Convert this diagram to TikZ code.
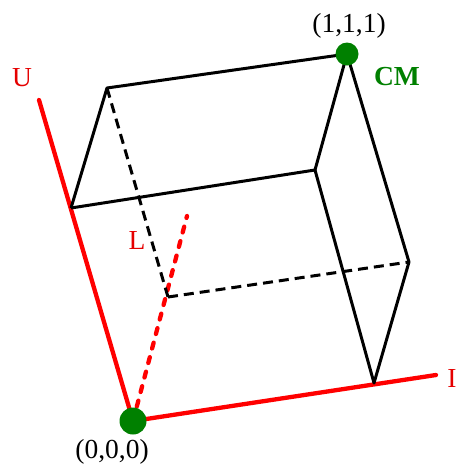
\documentclass[tikz,border=0pt]{standalone}
\usepackage{fontspec}
\setmainfont{Liberation Serif}
\begin{document}
\begin{tikzpicture}[x=1pt,y=-1pt,
  edge/.style={draw=black,line width=3pt,line join=round},
  hidden/.style={edge,dash pattern=on 10pt off 6pt},
  axis/.style={draw=red,line width=4.3pt,line cap=round},
  daxis/.style={axis,dash pattern=on 6pt off 9pt},
  dot/.style={circle,fill=green!50!black,inner sep=0pt},
  lbl/.style={font=\fontsize{27.5}{30}\selectfont,inner sep=0pt},
  rlbl/.style={lbl,text=red!90!black}]
\useasboundingbox (0,0) rectangle (459,466);
\coordinate (O) at (133,421);
\coordinate (Utop) at (39,100);
\coordinate (Iend) at (436,375);
\coordinate (Lend) at (187,216);
\coordinate (A) at (71,208);
\coordinate (B) at (374,383);
\coordinate (C) at (168,297);
\coordinate (UI) at (315,170);
\coordinate (UL) at (107,88);
\coordinate (IL) at (409,262);
\coordinate (P) at (347,54);
% axes
\draw[axis] (O) -- (Utop);
\draw[axis] (O) -- (Iend);
\draw[daxis] (O) -- (Lend);
% hidden edges
\draw[hidden] (UL) -- (C);
\draw[hidden] (C) -- (IL);
% visible edges
\draw[edge] (A) -- (UL) -- (P);
\draw[edge] (A) -- (UI) -- (P);
\draw[edge] (P) -- (IL) -- (B) -- (UI);
% dots
\node[dot,minimum size=27pt] (Od) at (O) {};
\node[dot,minimum size=23pt] (Pd) at (P) {};
% labels
\node[rlbl] (lU) at (22,78) {U};
\node[rlbl] (lI) at (452,378) {I};
\node[rlbl] (lL) at (137,240) {L};
\node[lbl] (l0) at (112,452) {(0,0,0)};
\node[lbl] (l1) at (349,26) {(1,1,1)};
\node[lbl,text=green!50!black,font=\fontsize{27.5}{30}\selectfont\bfseries] (lCM) at (397,77) {CM};
\end{tikzpicture}
\end{document}
